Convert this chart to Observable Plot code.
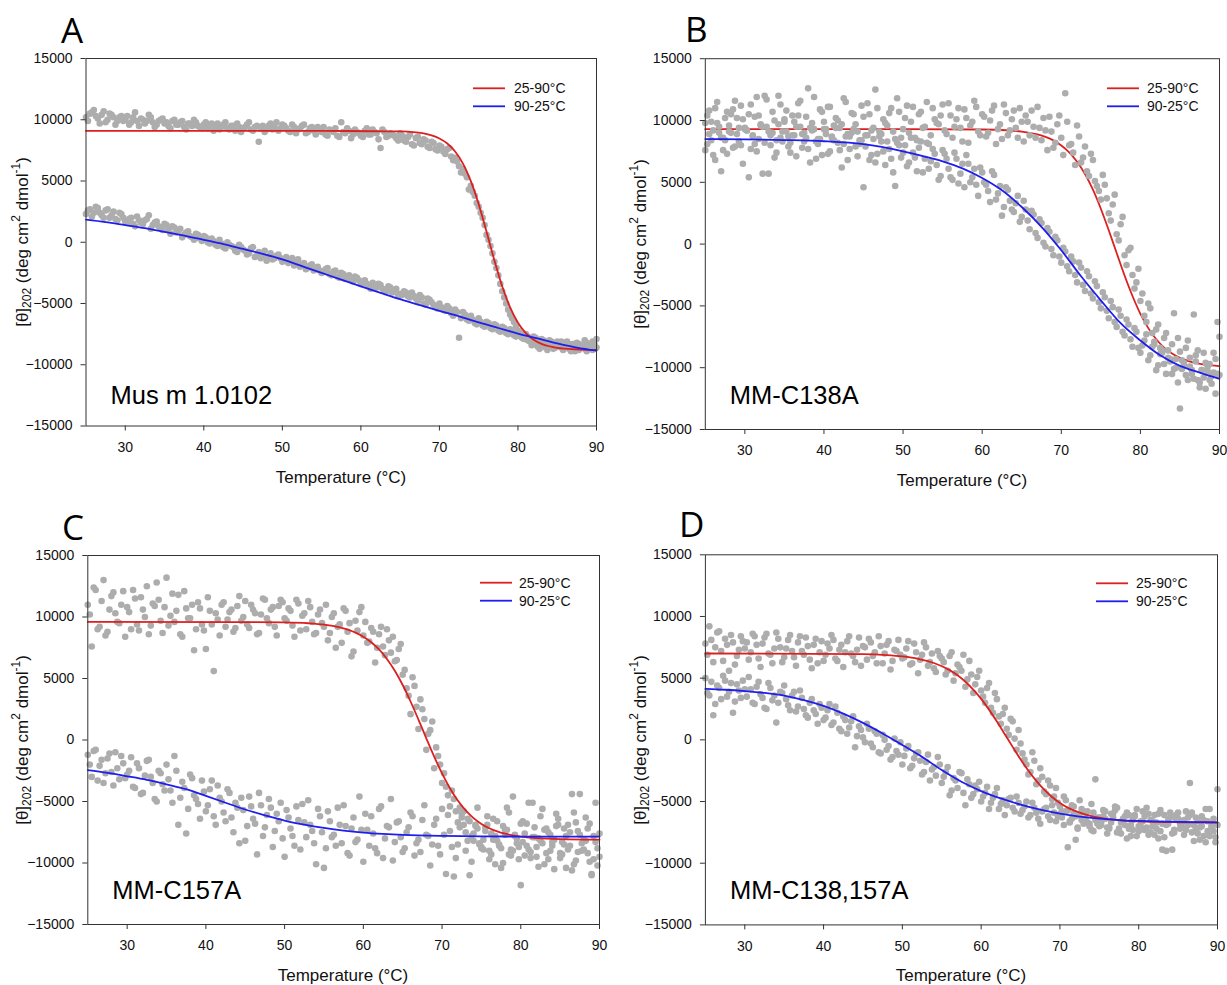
<!DOCTYPE html>
<html><head><meta charset="utf-8">
<script src="https://cdn.jsdelivr.net/npm/d3@7"></script>
<script src="https://cdn.jsdelivr.net/npm/@observablehq/plot@0.6"></script>
<style>
body{margin:0;background:#fff;}
#root{position:relative;width:1227px;height:985px;overflow:hidden;background:#fff;font-family:"Liberation Sans",Arial,sans-serif;color:#111}
.panel{position:absolute}
#overlay{position:absolute;left:0;top:0;pointer-events:none}
</style></head>
<body><div id="root"></div>
<script>
// ---------- data ----------
const temps = [25,25.5,26,26.5,27,27.5,28,28.5,29,29.5,30,30.5,31,31.5,32,32.5,33,33.5,34,34.5,35,35.5,36,36.5,37,37.5,38,38.5,39,39.5,40,40.5,41,41.5,42,42.5,43,43.5,44,44.5,45,45.5,46,46.5,47,47.5,48,48.5,49,49.5,50,50.5,51,51.5,52,52.5,53,53.5,54,54.5,55,55.5,56,56.5,57,57.5,58,58.5,59,59.5,60,60.5,61,61.5,62,62.5,63,63.5,64,64.5,65,65.5,66,66.5,67,67.5,68,68.5,69,69.5,70,70.5,71,71.5,72,72.5,73,73.5,74,74.5,75,75.5,76,76.5,77,77.5,78,78.5,79,79.5,80,80.5,81,81.5,82,82.5,83,83.5,84,84.5,85,85.5,86,86.5,87,87.5,88,88.5,89,89.5,90];
const temps2 = [25.25,25.75,26.25,26.75,27.25,27.75,28.25,28.75,29.25,29.75,30.25,30.75,31.25,31.75,32.25,32.75,33.25,33.75,34.25,34.75,35.25,35.75,36.25,36.75,37.25,37.75,38.25,38.75,39.25,39.75,40.25,40.75,41.25,41.75,42.25,42.75,43.25,43.75,44.25,44.75,45.25,45.75,46.25,46.75,47.25,47.75,48.25,48.75,49.25,49.75,50.25,50.75,51.25,51.75,52.25,52.75,53.25,53.75,54.25,54.75,55.25,55.75,56.25,56.75,57.25,57.75,58.25,58.75,59.25,59.75,60.25,60.75,61.25,61.75,62.25,62.75,63.25,63.75,64.25,64.75,65.25,65.75,66.25,66.75,67.25,67.75,68.25,68.75,69.25,69.75,70.25,70.75,71.25,71.75,72.25,72.75,73.25,73.75,74.25,74.75,75.25,75.75,76.25,76.75,77.25,77.75,78.25,78.75,79.25,79.75,80.25,80.75,81.25,81.75,82.25,82.75,83.25,83.75,84.25,84.75,85.25,85.75,86.25,86.75,87.25,87.75,88.25,88.75,89.25,89.75];
const xTicks = [30,40,50,60,70,80,90];
const yTicks = [-15000,-10000,-5000,0,5000,10000,15000];
const seriesNames = ["25-90°C","90-25°C"];
const panelLetters = ["A","B","C","D"];
const panelNames = ["Mus m 1.0102","MM-C138A","MM-C157A","MM-C138,157A"];

// Panel A measured points (grid temps)
const aHeat = [10200,10500,10800,10100,10400,9800,10500,10200,9900,10300,10000,
 9600,10200,9900,10100,9700,10400,9800,9600,10000,9700,
 9500,9900,9600,9800,9400,9700,9500,9800,9400,9600,
 9300,9700,9400,9200,9600,9300,9500,9100,9400,9300,
 9600,9200,9400,8200,9500,9200,9700,9400,9100,9600,
 9300,9000,9400,9200,9500,8900,9300,9100,9400,9000,
 8800,9200,9000,8700,9800,8900,9100,8800,9000,8700,
 9100,8800,9200,8900,7700,9000,8700,8800,8500,8900,
 8300,8600,8000,8500,8100,8400,7800,8200,7600,7900,
 7400,7600,7000,6900,6200,6000,5300,4600,3800,2900,
 2000,600,-300,-1600,-2700,-4000,-5000,-5900,-6500,-7200,
 -7600,-7900,-8100,-8300,-8500,-8200,-8600,-8300,-8700,-8400,
 -8100,-8600,-8300,-8700,-8200,-8500,-8000,-8400,-8100,-7900];
const aCool = [2300,2700,2400,2800,2200,2600,2000,2500,1800,2300,1700,
 1900,1500,2100,1600,1800,2200,1400,1700,1200,1500,
 1000,1300,800,1100,600,900,400,700,300,500,
 0,300,-200,200,-400,0,-300,-700,-200,-600,
 -1000,-500,-1200,-800,-1100,-1500,-900,-1300,-1000,-1600,
 -1200,-1500,-1900,-1400,-1800,-2200,-1900,-2300,-2000,-2500,
 -2200,-2600,-2400,-2800,-2500,-3000,-2700,-3200,-2900,-3400,
 -3100,-3600,-3300,-3700,-3500,-3900,-3600,-4100,-3800,-4200,
 -4000,-4400,-4100,-4600,-4300,-5000,-4600,-4900,-5300,-5000,
 -5500,-5200,-5800,-5500,-7800,-5700,-6300,-6000,-6600,-6200,
 -6800,-6500,-7000,-6700,-7200,-6900,-7400,-7100,-7600,-7400,
 -7800,-7500,-8000,-7700,-8200,-7900,-8300,-8000,-8500,-8100,
 -8600,-8200,-8700,-8300,-8800,-8400,-8700,-8500,-8800,-8600];
// Panel A measured points (offset temps2)
const aHeat2 = [9900,10600,10300,9700,10700,10000,10400,9600,10200,9900,
 10300,9800,10600,9500,10000,9900,10200,9400,9900,10100,
 9800,9300,10000,9600,9900,9200,9700,10000,9500,9300,
 9800,9500,9100,9700,9400,9800,9200,9500,9700,9000,
 9400,9800,9100,9500,9300,9000,9500,9200,9800,9300,
 9500,9100,9600,8900,9300,9600,9000,9400,8800,9200,
 9400,8700,9100,9300,8600,9000,9300,8500,9200,8900,
 8600,9300,8800,9000,8400,9200,8600,8900,8700,8300,
 8700,8200,8800,7900,8600,8000,8300,7700,8100,7500,
 7800,7200,7700,6700,6600,5700,5600,4300,4100,3200,
 2400,1400,200,-900,-2100,-3400,-4500,-5500,-6200,-6900,
 -7400,-7700,-8000,-8400,-8100,-8700,-8400,-8800,-8200,-8600,
 -8400,-8800,-8100,-8500,-8900,-8300,-8600,-8200,-8500,-8300];
const aCool2 = [2600,2100,2900,2400,2000,2700,2200,1900,2400,2000,
 1600,2000,1300,1800,1500,1900,1100,1600,1300,1000,
 1400,700,1200,900,400,800,500,200,600,100,
 400,-100,100,-300,-100,-500,-200,-400,-800,-400,
 -700,-900,-400,-1100,-1300,-700,-1200,-1400,-1100,-1300,
 -1400,-1700,-1300,-1600,-2000,-1700,-2100,-1800,-2200,-2300,
 -2400,-2100,-2700,-2300,-2900,-2600,-2800,-3100,-2800,-3100,
 -3300,-3400,-3800,-3500,-3400,-3800,-4000,-3700,-4000,-4400,
 -4300,-4100,-4500,-4400,-4800,-4500,-5100,-4700,-5100,-5400,
 -5300,-5600,-5400,-6000,-5700,-6200,-5900,-6400,-6300,-6700,
 -6500,-6900,-6600,-7100,-6800,-7300,-7000,-7500,-7300,-7700,
 -7600,-7900,-7700,-8100,-7800,-8300,-8000,-8400,-8100,-8600,
 -8300,-8600,-8400,-8900,-8500,-8800,-8600,-8900,-8500,-8700];
// Panel B measured points
const bHeat = [9800,10800,9200,11500,8600,10200,9600,10900,8900,11200,9400,
 10500,8800,11900,9700,12000,9100,10700,8400,11300,9900,
 8700,10400,9500,11600,9000,12600,9800,8300,10900,9300,
 11100,8600,10200,9400,11800,8900,10600,9700,8100,10300,
 11400,9200,12500,8700,10100,9600,11000,8500,10700,9300,
 11200,9900,8600,10500,9400,11500,8800,10100,9700,11300,
 8900,10400,9500,11000,8300,10200,9600,11600,9100,10500,
 8700,10000,11200,9300,8500,10600,9200,10800,8600,9900,
 10400,8800,9500,11100,8400,9200,10300,7800,9700,8600,
 12200,8000,7400,9600,6600,7900,5500,6800,4700,3600,
 4800,2500,3200,800,1600,-900,-500,-2500,-3100,-4600,
 -5800,-4800,-7200,-6900,-8400,-7600,-9200,-8100,-10000,-8700,
 -9600,-7800,-10500,-9000,-11200,-8800,-9900,-10700,-9300,-7500];
const bCool = [7600,8900,7200,9800,5900,8400,9100,7800,10200,8000,9300,
 5400,8700,7500,9600,8200,5700,9000,7400,8600,10100,
 7900,8800,7100,9500,8300,7700,9200,6900,8500,9900,
 7300,8700,9400,7600,8100,6800,9000,7900,8400,4600,
 8800,7200,6600,9100,7500,8300,6900,4700,8000,7400,
 6300,8600,7000,7800,5800,8200,6700,7300,5200,7600,
 6900,5400,7400,4900,6500,7200,5000,6100,3900,5800,
 4800,3400,5600,4100,2300,4600,3500,2600,3900,2200,
 2800,1200,2400,500,1700,-200,1000,-900,300,-1500,
 -600,-2200,-1400,-3100,-1900,-3800,-2600,-4400,-3400,-5200,
 -4300,-6000,-5100,-6700,-5800,-7400,-6500,-8300,-7100,-8800,
 -7800,-9400,-8300,-10200,-8900,-9700,-8600,-10500,-9300,-13300,
 -9800,-11000,-10200,-9500,-11600,-10800,-10300,-11300,-12100,-10600];
const bHeat2 = [10400,8400,11000,9500,7600,10700,9000,11600,8300,10100,
 9200,11300,8100,10400,9500,11700,8800,10000,12000,9100,
 10800,8200,9900,11400,8900,10300,9400,11900,8500,10700,
 9300,11100,8400,10000,9700,11500,8700,10500,9100,11200,
 8800,10500,9400,11000,8300,9800,10600,9100,11800,8600,
 10200,9000,11100,8400,10700,9500,8100,11000,9800,10400,
 9200,11400,8600,10100,9400,10900,8200,9900,11100,8800,
 10300,9000,10800,8100,9700,11300,8800,10100,9400,11000,
 8300,9900,10800,8600,9400,10200,7600,9100,8200,10400,
 7200,9900,8100,6400,8700,7000,5900,7300,5100,4300,
 5600,3700,1900,4000,300,2200,-1700,-300,-3600,-2000,
 -4000,-6300,-5200,-7900,-6500,-8600,-7200,-9500,-5600,-7600,
 -10100,-8400,-9200,-10900,-8600,-10200,-9600,-11000,-8800,-10500];
const bCool2 = [8100,9900,6800,9000,8600,7300,10500,7900,9400,6500,
 9200,7700,10300,8500,5700,9500,8000,7000,9700,8300,
 9100,7400,8800,10400,7800,8600,6600,9300,8100,7200,
 8900,7500,9600,8200,6200,8700,7700,9300,7100,8400,
 7900,6800,8500,7300,8900,6400,7700,5800,8200,7000,
 8000,6600,7400,5900,8300,6900,6100,7700,6400,5500,
 7300,6100,5200,6900,5700,4600,6500,5400,4800,6200,
 5000,4300,5900,3600,4700,3000,4400,2800,3300,1800,
 3500,1900,2700,900,2000,100,1300,-400,600,-1000,
 -300,-1800,-1000,-2500,-1500,-3300,-2200,-4000,-3000,-4700,
 -3900,-5400,-4600,-6300,-5300,-7100,-6100,-7700,-6800,-8400,
 -8200,-7300,-9000,-8100,-9800,-8800,-10500,-9300,-10100,-11200,
 -9400,-10600,-9900,-5700,-11000,-10200,-11700,-9700,-10400,-6300];
// Panel C measured points
const cHeat = [11000,7600,12200,9200,13000,8800,11700,10300,9500,12100,10800,
 9000,11500,8900,10600,12500,9300,10900,11400,8700,13200,
 10100,9600,11800,8400,10700,9900,7300,11200,9400,7400,
 10500,5600,9800,11000,9200,10400,8800,10900,9700,11300,
 9100,10600,8600,10200,11400,9500,10800,8500,11400,9900,
 10700,9300,11400,8900,10300,11300,9600,8700,10600,9200,
 8100,10000,7500,9400,10700,8800,6800,9700,10400,8500,
 7900,9100,6300,8600,7600,9000,7100,6400,7400,5300,
 4200,2100,4400,900,2500,-800,800,-2300,-1300,-3500,
 -3800,-5400,-4800,-6700,-6000,-7500,-6600,-8200,-7200,-8700,
 -7400,-9000,-8100,-6600,-8800,-7700,-9300,-4600,-8400,-11800,
 -7600,-8900,-5100,-9500,-8200,-7300,-9700,-8600,-7000,-9200,
 -8500,-6900,-4400,-9800,-7700,-8900,-7200,-10900,-8300,-9500];
const cCool = [-1200,-3000,-800,-2100,-3500,-1500,-2600,-1000,-3200,-1900,-2800,
 -1400,-3900,-2300,-4300,-1700,-3000,-4800,-2500,-3600,-2000,
 -4100,-1300,-6900,-3400,-7600,-2800,-4500,-5200,-3300,-5800,
 -4000,-6200,-3700,-5000,-6600,-4300,-7500,-5500,-4700,-8200,
 -4600,-6400,-9300,-5300,-7100,-4800,-8700,-6000,-5100,-9500,
 -6300,-7800,-5400,-8900,-6700,-4900,-7400,-10100,-6200,-10400,
 -5800,-7900,-8600,-6900,-5300,-9200,-7200,-8300,-4600,-9900,
 -7300,-6200,-8800,-5600,-9600,-7000,-4800,-8300,-6600,-9100,
 -7500,-5900,-9400,-8100,-6500,-7700,-10200,-6900,-8600,-5600,
 -10900,-7400,-11100,-8500,-6300,-9000,-11000,-7600,-5500,-8800,
 -7100,-9700,-6400,-8200,-10400,-7300,-5900,-9000,-8000,-6800,
 -9400,-5100,-7900,-8700,-6200,-10100,-7500,-8300,-6000,-9600,
 -7200,-8900,-10600,-6700,-4400,-8100,-9200,-11000,-5100,-7600];
const cHeat2 = [10200,12400,9000,11300,8500,10600,12000,9600,11000,8400,
 10400,12200,9400,11600,10000,8600,11100,12800,9700,10800,
 9300,11900,10500,8600,12100,9900,11000,9000,10700,8900,
 11600,9400,10300,8500,11200,9800,10600,9100,11700,10000,
 9400,11000,10300,8700,11500,9900,10600,9200,10900,11200,
 9700,10500,8400,11100,10100,9000,10800,8600,10200,9500,
 11000,8700,10300,9200,7900,10500,9500,7200,8900,10800,
 9600,8000,8800,7500,9200,6900,8100,8400,6500,7800,
 5700,3600,5100,2700,3300,1700,500,1500,-600,-2000,
 -2700,-4500,-4100,-5800,-5500,-6900,-6400,-7800,-7000,-8500,
 -8100,-6900,-9300,-7800,-8600,-10000,-7300,-8900,-7700,-9700,
 -8300,-6800,-9100,-7900,-10300,-8400,-7200,-9000,-8100,-6400,
 -9300,-7800,-8600,-10100,-7400,-9000,-8200,-6800,-9700,-8800];
const cCool2 = [-2000,-900,-3300,-1600,-2700,-1100,-3700,-2300,-1300,-3100,
 -2500,-3800,-1900,-4400,-2900,-1600,-3500,-5000,-2700,-4100,
 -3200,-5100,-2500,-4700,-3900,-5600,-3100,-4800,-6400,-4200,
 -5300,-3300,-6900,-4700,-5900,-4000,-6300,-5100,-8400,-5700,
 -7000,-5400,-6800,-4300,-7800,-6100,-5500,-7400,-6600,-8000,
 -5700,-7200,-8600,-6500,-5200,-7900,-6900,-8400,-5600,-7500,
 -8800,-6600,-7700,-5500,-8400,-7000,-9400,-6300,-8100,-7300,
 -6000,-8600,-7600,-9200,-5400,-8000,-7100,-9800,-6700,-7900,
 -8800,-7100,-6200,-8400,-9100,-5300,-7800,-8500,-6400,-9300,
 -7700,-6100,-8700,-9600,-7100,-5800,-8200,-9900,-6900,-8400,
 -8900,-6200,-7600,-10100,-8500,-7000,-5500,-9400,-7800,-8700,
 -6600,-8600,-9600,-7100,-8000,-5600,-9200,-7700,-10500,-6900,
 -8300,-10400,-7500,-5900,-9100,-8400,-6300,-9900,-7800,-10200];
// Panel D measured points
const dHeat = [7800,9200,6300,8700,7200,8200,5600,7900,6800,8400,7400,
 6500,8600,7700,5900,8300,7000,6200,8700,7500,6700,
 8100,7200,6000,8400,6900,7600,5800,8200,7100,6400,
 7800,8500,6600,7300,5900,8000,7000,6300,8300,7600,
 6500,7900,7100,8400,6200,7700,5700,7300,8100,6600,
 7400,6100,7800,5400,6900,7500,6300,5800,7200,6600,
 5300,6800,4800,6100,5600,4300,6400,3800,5100,4000,
 3000,4600,2200,3300,1300,2600,400,1500,-800,-300,
 -1600,-2800,-1000,-3600,-2300,-4200,-3300,-4800,-3900,-5400,
 -4600,-8700,-5300,-6200,-4900,-5800,-6700,-5200,-3200,-6300,
 -5700,-7100,-6000,-5400,-7400,-6500,-5900,-7800,-6200,-7000,
 -6600,-5500,-7500,-6100,-8000,-6800,-9000,-5900,-7300,-6400,
 -7100,-5800,-3500,-6900,-7600,-6200,-8300,-5600,-7400,-4000];
const dCool = [5000,3600,2000,4400,3300,4800,3900,2200,4500,3400,4100,
 5100,3000,4300,3700,2600,4600,3200,1400,3900,4400,
 2800,3600,2300,4000,2500,1800,3300,2100,2900,1600,
 2400,1200,2700,900,1900,500,1500,-600,1100,200,
 1300,-300,700,-1000,400,-800,-1600,100,-1200,-2000,
 -700,-2300,-1500,-1000,-2800,-1800,-3300,-2200,-1400,-3500,
 -2600,-4500,-3100,-3900,-2700,-5300,-3600,-4400,-4000,-5000,
 -4300,-5600,-4700,-3900,-5200,-6100,-4800,-5500,-4600,-6000,
 -5400,-6300,-5100,-5900,-6800,-5600,-6200,-5300,-6600,-6000,
 -6900,-5700,-6400,-8100,-6100,-6800,-5800,-7300,-6500,-7000,
 -6200,-7600,-6700,-5700,-7200,-6400,-8000,-6900,-6100,-7400,
 -5800,-7100,-6500,-7700,-6000,-8900,-6900,-6300,-7500,-5900,
 -6700,-7300,-6100,-8200,-6600,-7000,-5600,-7800,-6400,-6900];
const dHeat2 = [6900,8100,7500,8800,6400,7700,8500,6100,7300,8000,
 7900,7100,8400,6600,7800,8600,6900,7400,8200,6300,
 7400,8500,6700,7900,7200,8300,6500,7700,6200,8000,
 6900,7400,8100,6400,7700,7100,8400,6800,7300,6000,
 7500,8200,6800,6200,7600,7000,8000,6400,7200,6900,
 6700,8000,6200,7100,6500,7900,6000,7000,5500,6800,
 6300,5600,7100,5400,5900,6900,4900,5300,4500,5600,
 3500,4200,2600,3800,1900,2100,900,1700,100,800,
 -1100,-2000,-2600,-1700,-3300,-3000,-4400,-3700,-4600,-5100,
 -5800,-4900,-6600,-5400,-7100,-5600,-6400,-7000,-5900,-6800,
 -6600,-5800,-7200,-6300,-5500,-7600,-6900,-6100,-7300,-5600,
 -7000,-6200,-7700,-6600,-7200,-5700,-7900,-6500,-8900,-6100,
 -6800,-7700,-6300,-5900,-7200,-8100,-6500,-7400,-7000,-7900];
const dCool2 = [3800,4700,2900,4200,5200,3500,4600,3100,4000,4800,
 3500,4100,2900,4700,3400,2500,4200,3600,3000,3800,
 3300,2400,3900,2700,3400,2000,3000,2400,1300,2600,
 1800,2900,1400,2200,700,1600,1000,1900,300,800,
 -200,900,-600,500,-1100,0,-500,-1400,-900,-200,
 -1300,-500,-2100,-1100,-1700,-2600,-1200,-2400,-2900,-2000,
 -3000,-2200,-4100,-3300,-2600,-4300,-3200,-4700,-3700,-3400,
 -4600,-3800,-5100,-4400,-5600,-4900,-5300,-4700,-5800,-5100,
 -5700,-5000,-6100,-5500,-6400,-5800,-5500,-6500,-5900,-6200,
 -6300,-5800,-6700,-6000,-7200,-6500,-5900,-6800,-7400,-6300,
 -6900,-6400,-7100,-6000,-7500,-6700,-6200,-7200,-6500,-7800,
 -6600,-7300,-6000,-7000,-6700,-7400,-6100,-6800,-7600,-6400,
 -7200,-6500,-6900,-7500,-6300,-7100,-7800,-6600,-7000,-8300];

// Fitted curves: [temperature, value]
const fitA_heat = [[25,9100],[40,9100],[55,9090],[62,9060],[65,9050],[67,8970],[68,8880],[69,8720],[70,8470],[71,8060],[72,7410],[73,6420],[74,4990],[75,3100],[76,850],[77,-1480],[78,-3610],[79,-5320],[80,-6570],[81,-7410],[82,-7950],[83,-8290],[84,-8490],[85,-8620],[86,-8690],[88,-8760],[90,-8790]];
const fitA_cool = [[25,1850],[27.5,1650],[30,1400],[32.5,1150],[35,850],[37.5,550],[40,200],[42.5,-150],[45,-550],[47.5,-950],[50,-1400],[52.5,-1950],[55,-2500],[57.5,-3050],[60,-3600],[62.5,-4130],[65,-4650],[67.5,-5130],[70,-5600],[72.5,-6050],[75,-6550],[77.5,-7000],[80,-7450],[82.5,-7850],[85,-8250],[87.5,-8600],[90,-8850]];
const fitB_heat = [[25,9300],[50,9300],[60,9270],[63,9210],[65,9100],[67,8870],[68,8670],[69,8390],[70,7980],[71,7430],[72,6670],[73,5670],[74,4400],[75,2860],[76,1120],[77,-720],[78,-2540],[79,-4200],[80,-5640],[81,-6800],[82,-7700],[83,-8370],[84,-8860],[85,-9210],[86,-9450],[87,-9630],[88,-9740],[89,-9820],[90,-9880]];
const fitB_cool = [[25,8500],[30,8480],[35,8420],[40,8320],[45,8080],[50,7500],[52.5,7120],[55,6700],[57.5,6130],[60,5350],[62.5,4350],[65,3000],[67.5,1400],[70,-500],[72.5,-2600],[75,-4550],[77.5,-6400],[80,-7800],[82.5,-9000],[85,-9850],[87.5,-10400],[90,-10900]];
const fitC_heat = [[25,9600],[45,9590],[50,9560],[53,9490],[55,9380],[57,9150],[59,8730],[60,8400],[61,7950],[62,7360],[63,6590],[64,5630],[65,4470],[66,3130],[67,1660],[68,140],[69,-1350],[70,-2720],[71,-3920],[72,-4920],[73,-5720],[74,-6350],[75,-6820],[76,-7170],[77,-7430],[78,-7620],[80,-7860],[82,-7980],[85,-8060],[90,-8100]];
const fitC_cool = [[25,-2450],[27.5,-2680],[30,-2950],[32.5,-3240],[35,-3600],[37.5,-4000],[40,-4550],[42.5,-5100],[45,-5650],[47.5,-6120],[50,-6550],[52.5,-6880],[55,-7150],[57.5,-7370],[60,-7530],[62.5,-7640],[65,-7720],[70,-7800],[75,-7830],[80,-7850],[90,-7860]];
const fitD_heat = [[25,7000],[45,6950],[48,6870],[50,6760],[52,6570],[54,6230],[56,5650],[57,5230],[58,4710],[59,4070],[60,3320],[61,2450],[62,1480],[63,460],[64,-570],[65,-1580],[66,-2510],[67,-3330],[68,-4040],[69,-4630],[70,-5110],[71,-5490],[72,-5780],[74,-6190],[76,-6410],[78,-6540],[80,-6610],[85,-6680],[90,-6700]];
const fitD_cool = [[25,4130],[27.5,4060],[30,3950],[32.5,3800],[35,3580],[37.5,3220],[40,2750],[42.5,2130],[45,1380],[47.5,520],[50,-420],[52.5,-1380],[55,-2450],[57.5,-3400],[60,-4150],[62.5,-4750],[65,-5250],[67.5,-5660],[70,-5980],[72.5,-6220],[75,-6390],[77.5,-6500],[80,-6570],[85,-6650],[90,-6690]];

// ---------- styles / layout ----------
const RED = "#dc2020", BLUE = "#1e1ef0", GRAY = "#adadad", AXIS = "#333";
const layout = [
  {left:0,   top:0,   w:613, h:470, ml:85.5, mr:17, mt:58,   mb:44.5, ndy:-22.5, dotsOverRed:false},
  {left:620, top:0,   w:607, h:470, ml:84.8, mr:8,  mt:58.2, mb:41,   ndy:-25.5, dotsOverRed:true},
  {left:0,   top:497, w:613, h:470, ml:87.3, mr:14, mt:58,   mb:43,   ndy:-25.5, dotsOverRed:false},
  {left:620, top:497, w:607, h:470, ml:84.9, mr:10, mt:57.3, mb:42.6, ndy:-26,   dotsOverRed:false}
];
const pointSets = [
  [aHeat, aCool, aHeat2, aCool2],
  [bHeat, bCool, bHeat2, bCool2],
  [cHeat, cCool, cHeat2, cCool2],
  [dHeat, dCool, dHeat2, dCool2]
];
const fitHeatSets = [fitA_heat,fitB_heat,fitC_heat,fitD_heat];
const fitCoolSets = [fitA_cool,fitB_cool,fitC_cool,fitD_cool];

const root = document.getElementById("root");

layout.forEach((L, k) => {
  const [h1, c1, h2, c2] = pointSets[k];
  const pts = [
    ...temps.map((t,i)=>({t, v: h1[i]})),
    ...temps.map((t,i)=>({t, v: c1[i]})),
    ...temps2.map((t,i)=>({t, v: h2[i]})),
    ...temps2.map((t,i)=>({t, v: c2[i]}))
  ];
  const fh = fitHeatSets[k].map(([t,v])=>({t,v}));
  const fc = fitCoolSets[k].map(([t,v])=>({t,v}));
  const redLine = Plot.line(fh, {x:"t", y:"v", stroke: RED, strokeWidth: 1.8, curve: "monotone-x"});
  const blueLine = Plot.line(fc, {x:"t", y:"v", stroke: BLUE, strokeWidth: 1.8, curve: "monotone-x"});
  const dots = Plot.dot(pts, {x:"t", y:"v", r: 3.3, fill: GRAY, stroke: "none"});
  const dataMarks = L.dotsOverRed ? [redLine, dots, blueLine] : [dots, redLine, blueLine];
  const chart = Plot.plot({
    width: L.w, height: L.h,
    marginLeft: L.ml, marginRight: L.mr, marginTop: L.mt, marginBottom: L.mb,
    x: {domain: [25, 90]},
    y: {domain: [-15000, 15000]},
    style: {fontFamily: "'Liberation Sans', Arial, sans-serif", fontSize: "14px", color: "#111", background: "transparent", overflow: "visible"},
    marks: [
      ...dataMarks,
      Plot.frame({stroke: AXIS, strokeWidth: 1}),
      Plot.axisX(xTicks, {tickSize: 5, tickPadding: 11, label: null, stroke: AXIS, fill: "#111"}),
      Plot.axisY(yTicks, {tickSize: 5, tickPadding: 8.5, tickFormat: d3.format("d"), label: null, stroke: AXIS, fill: "#111"}),
      Plot.text([panelNames[k]], {text: d=>d, frameAnchor: "bottom-left", dx: 24.5, dy: L.ndy, lineAnchor: "bottom", textAnchor: "start", fontSize: 25.5, fill: "#000"})
    ]
  });
  const div = document.createElement("div");
  div.className = "panel";
  div.style.left = L.left + "px"; div.style.top = L.top + "px";
  div.style.width = L.w + "px"; div.style.height = L.h + "px";
  div.appendChild(chart);
  root.appendChild(div);
});

// ---------- overlay text: letters, axis titles, legends ----------
const ns = "http://www.w3.org/2000/svg";
const ov = document.createElementNS(ns, "svg");
ov.setAttribute("id","overlay"); ov.setAttribute("width",1227); ov.setAttribute("height",985);
root.appendChild(ov);
function txt(x, y, s, attrs) {
  const t = document.createElementNS(ns, "text");
  t.setAttribute("x", x); t.setAttribute("y", y);
  for (const k in attrs) t.setAttribute(k, attrs[k]);
  t.textContent = s; ov.appendChild(t); return t;
}
const letterPos = [[61,43],[685,42],[62,540],[679,537]];
const xTitlePos = [[341,477],[962,480],[343,975],[961,975]];
const yTitlePos = [[22,242],[640,244],[22,740],[640,740]];
const legendPos = [[473,88.3,514],[1107,88.3,1147],[480,582.7,519],[1096,583.3,1136]];
panelLetters.forEach((s,k)=>{
  txt(letterPos[k][0], letterPos[k][1], s, {"font-family":"'Open Sans','Noto Sans',sans-serif","font-size":35,"fill":"#000"});
  txt(xTitlePos[k][0], xTitlePos[k][1], "Temperature (°C)", {"font-family":"'Liberation Sans',Arial,sans-serif","font-size":17,"text-anchor":"middle","dominant-baseline":"central","fill":"#111"});
  const t = document.createElementNS(ns,"text");
  t.setAttribute("transform", `translate(${yTitlePos[k][0]},${yTitlePos[k][1]}) rotate(-90)`);
  t.setAttribute("text-anchor","middle"); t.setAttribute("dominant-baseline","central");
  t.setAttribute("font-family","'Liberation Sans',Arial,sans-serif"); t.setAttribute("font-size",17); t.setAttribute("fill","#111");
  const parts = [["[θ]",0,17],["202",5,12],[" (deg cm",-5,17],["2",-6,12],[" dmol",6,17],["-1",-6,12],[")",6,17]];
  parts.forEach(([s,dy,fs])=>{const sp=document.createElementNS(ns,"tspan"); sp.setAttribute("dy",dy); sp.setAttribute("font-size",fs); sp.textContent=s; t.appendChild(sp);});
  ov.appendChild(t);
  const [lx, ly, tx] = legendPos[k];
  [RED, BLUE].forEach((c,j)=>{
    const yy = ly + j*18;
    const ln = document.createElementNS(ns,"line");
    ln.setAttribute("x1",lx); ln.setAttribute("x2",lx+32); ln.setAttribute("y1",yy); ln.setAttribute("y2",yy);
    ln.setAttribute("stroke",c); ln.setAttribute("stroke-width",1.8); ov.appendChild(ln);
    txt(tx, yy, seriesNames[j], {"font-family":"'Liberation Sans',Arial,sans-serif","font-size":14,"dominant-baseline":"central","fill":"#111"});
  });
});
</script></body></html>
